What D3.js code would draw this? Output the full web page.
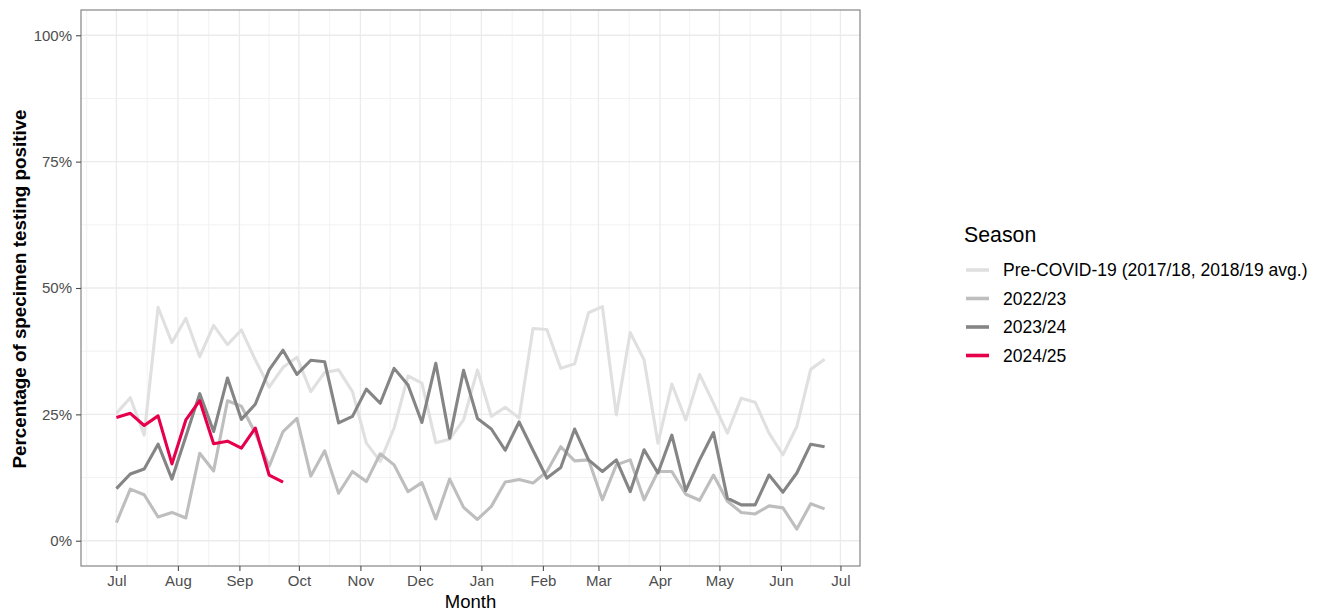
<!DOCTYPE html>
<html>
<head>
<meta charset="utf-8">
<script src="https://cdn.jsdelivr.net/npm/d3@7"></script>
<style>
  html, body { margin: 0; padding: 0; background: #ffffff; }
  svg { display: block; font-family: "Liberation Sans", Arial, Helvetica, sans-serif; }
</style>
</head>
<body>
<svg id="chart" width="1326" height="612"></svg>
<script>
// ---------------- DATA ----------------
const seasons = ["Pre-COVID-19 (2017/18, 2018/19 avg.)", "2022/23", "2023/24", "2024/25"];
const seasonColors = ["#e0e0e0", "#bebebe", "#858585", "#e6004c"];

// week number within the season (week 0 = start of July)
const weekIndex = [0,1,2,3,4,5,6,7,8,9,10,11,12,13,14,15,16,17,18,19,20,21,22,23,24,25,
                   26,27,28,29,30,31,32,33,34,35,36,37,38,39,40,41,42,43,44,45,46,47,48,49,50,51];

// percentage of specimens testing positive
const preCovid = [25.2,28.3,20.9,46.2,39.2,44.0,36.4,42.6,38.8,41.7,35.8,30.4,34.3,36.3,29.5,33.3,
                  33.8,29.5,19.3,15.7,22.3,32.6,31.2,19.4,20.1,23.9,33.8,24.6,26.4,24.3,42.0,41.8,
                  34.1,35.0,45.1,46.3,24.9,41.2,35.8,19.3,31.0,23.9,32.9,27.2,21.3,28.2,27.4,21.3,
                  17.0,22.6,33.9,35.9];
const s2022 = [3.6,10.2,9.1,4.7,5.6,4.5,17.3,13.8,27.7,26.6,21.3,14.7,21.6,24.2,12.8,17.8,
               9.4,13.7,11.7,17.2,15.0,9.7,11.5,4.3,12.2,6.6,4.2,6.8,11.6,12.1,11.4,13.7,
               18.6,15.8,16.0,8.1,15.0,16.0,8.1,13.7,13.7,9.2,8.0,13.0,7.8,5.6,5.3,6.9,
               6.5,2.3,7.3,6.3];
const s2023 = [10.3,13.2,14.2,19.1,12.2,20.6,29.1,21.6,32.2,24.0,27.0,33.8,37.7,32.9,35.7,35.4,
               23.3,24.6,30.0,27.2,34.1,30.8,23.4,35.1,20.3,33.7,24.2,22.1,17.9,23.5,17.9,12.4,
               14.5,22.1,16.0,13.7,16.0,9.7,18.0,13.4,20.9,9.9,16.0,21.4,8.4,7.1,7.1,13.0,
               9.6,13.4,19.1,18.6];
const s2024 = [24.4,25.2,22.8,24.7,15.2,23.9,27.7,19.2,19.7,18.3,22.3,13.0,11.6];

const yTickValues = [0, 25, 50, 75, 100];
const yTickLabels = ["0%", "25%", "50%", "75%", "100%"];
const monthLabels = ["Jul","Aug","Sep","Oct","Nov","Dec","Jan","Feb","Mar","Apr","May","Jun","Jul"];

const axisTitleX = "Month";
const axisTitleY = "Percentage of specimen testing positive";
const legendTitle = "Season";

// ---------------- LAYOUT ----------------
const svg = d3.select("#chart");
const panel = { left: 81, right: 860, top: 10, bottom: 566 };

const seasonStart = Date.UTC(2022, 6, 1);
const DAY = 86400000;
const weekDate = w => new Date(seasonStart + w * 7 * DAY);

const d0 = weekDate(weekIndex[0]).getTime();
const d1 = weekDate(weekIndex[weekIndex.length - 1]).getTime();
const span = d1 - d0;
const x = d3.scaleUtc()
  .domain([new Date(d0 - 0.05 * span), new Date(d1 + 0.05 * span)])
  .range([panel.left, panel.right]);

const y = d3.scaleLinear()
  .domain([-5, 105])
  .range([panel.bottom, panel.top]);

// ---------------- GRID ----------------
const grid = svg.append("g");
const monthTicks = d3.utcMonth.range(new Date(Date.UTC(2022, 6, 1)), new Date(Date.UTC(2023, 6, 2)));
const extMonths = [new Date(Date.UTC(2022, 5, 1))].concat(monthTicks, [new Date(Date.UTC(2023, 7, 1))]);
const minorX = [];
for (let i = 0; i < extMonths.length - 1; i++) {
  const m = new Date((extMonths[i].getTime() + extMonths[i + 1].getTime()) / 2);
  const px = x(m);
  if (px > panel.left && px < panel.right) minorX.push(m);
}
const minorY = [12.5, 37.5, 62.5, 87.5];

grid.selectAll(".minx").data(minorX).join("line")
  .attr("x1", d => x(d)).attr("x2", d => x(d))
  .attr("y1", panel.top).attr("y2", panel.bottom)
  .attr("stroke", "#f0f0f0").attr("stroke-width", 0.9);
grid.selectAll(".miny").data(minorY).join("line")
  .attr("x1", panel.left).attr("x2", panel.right)
  .attr("y1", d => y(d)).attr("y2", d => y(d))
  .attr("stroke", "#f0f0f0").attr("stroke-width", 0.9);
grid.selectAll(".majx").data(monthTicks).join("line")
  .attr("x1", d => x(d)).attr("x2", d => x(d))
  .attr("y1", panel.top).attr("y2", panel.bottom)
  .attr("stroke", "#ebebeb").attr("stroke-width", 1.3);
grid.selectAll(".majy").data(yTickValues).join("line")
  .attr("x1", panel.left).attr("x2", panel.right)
  .attr("y1", d => y(d)).attr("y2", d => y(d))
  .attr("stroke", "#ebebeb").attr("stroke-width", 1.3);

// ---------------- LINES ----------------
const seriesValues = [preCovid, s2022, s2023, s2024];
const line = d3.line()
  .x(d => x(weekDate(d.w)))
  .y(d => y(d.v));

seriesValues.forEach((vals, k) => {
  const pts = vals.map((v, i) => ({ w: weekIndex[i], v }));
  svg.append("path")
    .datum(pts)
    .attr("d", line)
    .attr("fill", "none")
    .attr("stroke", seasonColors[k])
    .attr("stroke-width", 3.1)
    .attr("stroke-linejoin", "round")
    .attr("stroke-linecap", "butt");
});

// ---------------- PANEL BORDER ----------------
svg.append("rect")
  .attr("x", panel.left).attr("y", panel.top)
  .attr("width", panel.right - panel.left).attr("height", panel.bottom - panel.top)
  .attr("fill", "none").attr("stroke", "#7a7a7a").attr("stroke-width", 1.1);

// ---------------- AXES ----------------
const xAxis = d3.axisBottom(x)
  .tickValues(monthTicks)
  .tickFormat((d, i) => monthLabels[i])
  .tickSize(5).tickPadding(4);
const gx = svg.append("g").attr("transform", `translate(0,${panel.bottom})`).call(xAxis);
gx.select(".domain").remove();
gx.selectAll(".tick line").attr("stroke", "#4d4d4d").attr("stroke-width", 1.1);
gx.selectAll(".tick text").attr("fill", "#4d4d4d").style("font-size", "15px")
  .style("font-family", "'Liberation Sans', Arial, sans-serif");

const yAxis = d3.axisLeft(y)
  .tickValues(yTickValues)
  .tickFormat((d, i) => yTickLabels[i])
  .tickSize(5).tickPadding(4);
const gy = svg.append("g").attr("transform", `translate(${panel.left},0)`).call(yAxis);
gy.select(".domain").remove();
gy.selectAll(".tick line").attr("stroke", "#4d4d4d").attr("stroke-width", 1.1);
gy.selectAll(".tick text").attr("fill", "#4d4d4d").style("font-size", "15px")
  .style("font-family", "'Liberation Sans', Arial, sans-serif");

// axis titles
svg.append("text")
  .attr("x", (panel.left + panel.right) / 2).attr("y", 608)
  .attr("text-anchor", "middle")
  .style("font-size", "18.5px").attr("fill", "#000")
  .text(axisTitleX);

svg.append("text")
  .attr("transform", `translate(26,${(panel.top + panel.bottom) / 2 + 1}) rotate(-90)`)
  .attr("text-anchor", "middle")
  .style("font-size", "18.8px").style("font-weight", "bold").attr("fill", "#000")
  .text(axisTitleY);

// ---------------- LEGEND ----------------
const legend = svg.append("g");
legend.append("text")
  .attr("x", 964).attr("y", 242)
  .style("font-size", "21.3px").attr("fill", "#000")
  .text(legendTitle);

const rowY = d3.scalePoint().domain(seasons).range([270, 355.5]);
seasons.forEach((s, k) => {
  legend.append("line")
    .attr("x1", 966).attr("x2", 989)
    .attr("y1", rowY(s)).attr("y2", rowY(s))
    .attr("stroke", seasonColors[k]).attr("stroke-width", 3.6);
  legend.append("text")
    .attr("x", 1003).attr("y", rowY(s) + 6.4)
    .style("font-size", "17.5px").attr("fill", "#000")
    .text(s);
});
</script>
</body>
</html>
